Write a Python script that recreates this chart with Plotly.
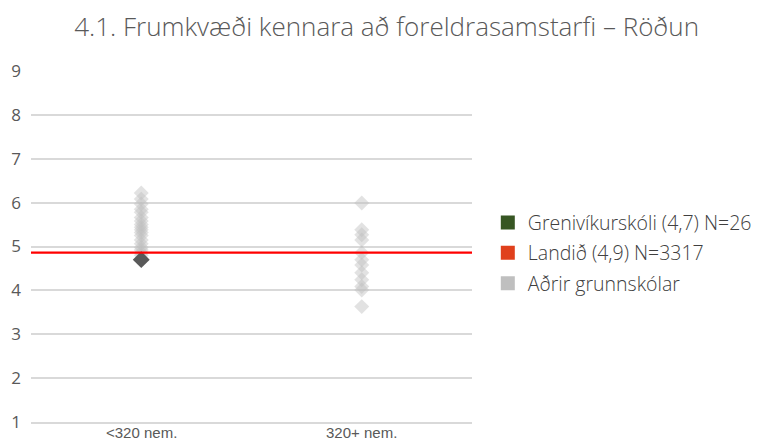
import plotly.graph_objects as go

# Categories (school size groups)
categories = ["<320 nem.", "320+ nem."]

# Other primary schools: score per school, by size group
others_small = [6.22, 6.08, 5.97, 5.85, 5.78, 5.66, 5.58, 5.5, 5.44, 5.38, 5.32,
                5.25, 5.15, 5.06, 4.98, 4.92, 4.86, 4.8]
others_large = [5.99, 5.38, 5.27, 5.15, 4.86, 4.70, 4.58, 4.40, 4.24, 4.09, 4.01, 3.63]

# Highlighted school and national average
school_name = "Grenivíkurskóli (4,7) N=26"
school_value = 4.7
country_name = "Landið (4,9) N=3317"
country_value = 4.86
others_name = "Aðrir grunnskólar"

y_ticks = [1, 2, 3, 4, 5, 6, 7, 8, 9]

FONT = "Open Sans"
TXT = "#595959"

fig = go.Figure()

# Other schools as translucent diamonds
fig.add_trace(go.Scatter(
    x=[categories[0]] * len(others_small) + [categories[1]] * len(others_large),
    y=others_small + others_large,
    mode="markers",
    marker=dict(symbol="diamond", size=11.5, color="rgba(191,191,191,0.45)",
                line=dict(width=0)),
    showlegend=False, hoverinfo="y",
))

# The highlighted school
fig.add_trace(go.Scatter(
    x=[categories[0]], y=[school_value],
    mode="markers",
    marker=dict(symbol="diamond", size=13, color="#595959", line=dict(width=0)),
    showlegend=False, hoverinfo="y",
))

# National average line across the whole plot
fig.add_shape(type="line", xref="x domain", yref="y", x0=0, x1=1,
              y0=country_value, y1=country_value,
              line=dict(color="#ff0000", width=2.2), layer="above")

# Category labels placed tight under the axis line
for cat in categories:
    fig.add_annotation(x=cat, xref="x", y=0, yref="y domain", yanchor="middle",
                       yshift=-10.5, text=cat, showarrow=False,
                       font=dict(size=15, color=TXT, family="Liberation Sans"))

# Legend entries with square swatches
for name, col in [(school_name, "#375623"), (country_name, "#e0401c"), (others_name, "#bfbfbf")]:
    fig.add_trace(go.Scatter(
        x=[None], y=[None], mode="markers", name=name, legendgroup=name,
        marker=dict(symbol="square", size=14, color=col),
    ))

fig.update_layout(
    width=761, height=442,
    paper_bgcolor="white", plot_bgcolor="white",
    margin=dict(l=31, r=289, t=71, b=20, autoexpand=False),
    font=dict(family=FONT, color=TXT),
    title=dict(text="4.1. Frumkvæði kennara að foreldrasamstarfi – Röðun",
               x=0.508, xanchor="center", y=0.94, yanchor="middle",
               font=dict(size=26, color=TXT, family=FONT, weight=300)),
    xaxis=dict(type="category", categoryorder="array", categoryarray=categories,
               range=[-0.5, 1.5], showgrid=False, zeroline=False,
               showline=True, linecolor="#d9d9d9", linewidth=1.5,
               showticklabels=False, ticks="", automargin=False),
    yaxis=dict(range=[1, 9], tickvals=y_ticks, showgrid=True, gridcolor="#d9d9d9",
               gridwidth=1.5, zeroline=False, showline=False,
               tickfont=dict(size=17, color=TXT), ticks="", ticklen=0,
               automargin=False, ticklabelstandoff=9),
    legend=dict(xref="container", x=0.641, xanchor="left",
                yref="container", y=0.427, yanchor="middle",
                font=dict(size=19.5, color="#404040", family=FONT, weight=300),
                tracegroupgap=2, bgcolor="rgba(0,0,0,0)"),
    showlegend=True,
)

fig.write_html("out.html")
